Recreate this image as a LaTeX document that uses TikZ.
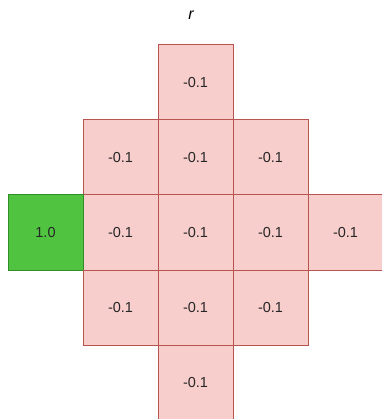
\documentclass[tikz,border=0pt]{standalone}
\usepackage{fontspec}
\setmainfont{Liberation Sans}
\usetikzlibrary{positioning}
\definecolor{cellpink}{RGB}{248,206,204}
\definecolor{cellred}{RGB}{184,84,80}
\definecolor{cellgreen}{RGB}{80,196,64}
\definecolor{celldkgreen}{RGB}{50,140,40}

\begin{document}
\begin{tikzpicture}[
    node distance=0pt,
    cell/.style={rectangle, minimum size=75pt, inner sep=0pt, outer sep=0pt, draw=cellred, fill=cellpink, line width=1pt, text=black!85, font=\fontsize{14.5}{16}\selectfont},
    goalcell/.style={cell, draw=celldkgreen, fill=cellgreen}
]
    \useasboundingbox (0,0) rectangle (381pt,-419pt);

    \node[font=\fontsize{16}{18}\selectfont\itshape] (title) at (191pt,-15pt) {r};

    \node[cell] (mid) at (195.5pt,-232.5pt) {-0.1};
    \node[cell, above=of mid] (up) {-0.1};
    \node[cell, above=of up] (upup) {-0.1};
    \node[cell, left=of up] (upleft) {-0.1};
    \node[cell, right=of up] (upright) {-0.1};
    \node[cell, left=of mid] (left) {-0.1};
    \node[goalcell, left=of left] (goal) {1.0};
    \node[cell, right=of mid] (right) {-0.1};
    \node[cell, right=of right] (rightright) {-0.1};
    \node[cell, below=of mid] (down) {-0.1};
    \node[cell, left=of down] (downleft) {-0.1};
    \node[cell, right=of down] (downright) {-0.1};
    \node[cell, below=of down] (downdown) {-0.1};

\end{tikzpicture}
\end{document}
